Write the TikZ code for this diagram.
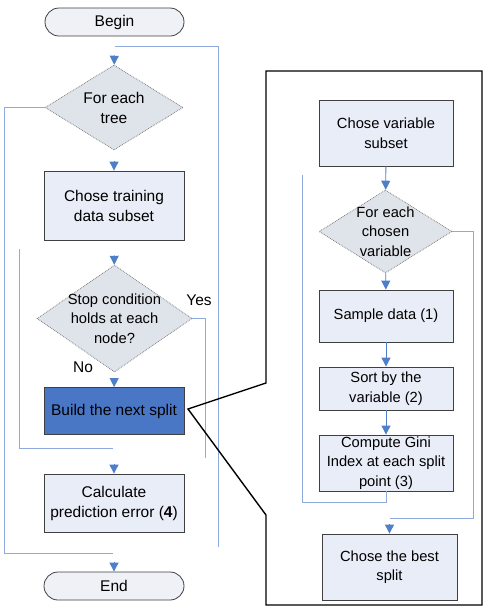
\documentclass[tikz,border=0pt]{standalone}
\usepackage{fontspec}
\setmainfont{Liberation Sans}
\usetikzlibrary{shapes.geometric,shapes.misc,arrows.meta}
\definecolor{boxfill}{HTML}{E9EDF7}
\definecolor{termfill}{HTML}{EFF1F7}
\definecolor{decfill}{HTML}{DFE3EA}
\definecolor{buildfill}{HTML}{4A77C5}
\definecolor{arrowblue}{HTML}{4F7FC8}
\definecolor{loopblue}{HTML}{8FAADC}
\definecolor{edge}{HTML}{404040}
\tikzset{
  every node/.style={font=\fontsize{15.5}{20}\selectfont, align=center},
  small/.style={font=\fontsize{14.7}{19.5}\selectfont},
  term/.style={rounded rectangle, draw=edge, fill=termfill, line width=0.8pt, inner sep=0pt},
  proc/.style={rectangle, draw=edge, fill=boxfill, line width=0.8pt, inner sep=0pt},
  dec/.style={diamond, draw=gray, densely dotted, fill=decfill, line width=0.8pt, inner sep=0pt},
  arr/.style={draw=arrowblue, line width=0.9pt, -{Triangle[length=9pt,width=9pt]}},
  loopline/.style={draw=loopblue, line width=0.9pt},
  callout/.style={draw=black, line width=1.4pt, line join=miter}
}
\begin{document}
\begin{tikzpicture}[x=1pt,y=-1pt]
\useasboundingbox (0,0) rectangle (489,611);
% left column
\node[term, minimum width=139pt, minimum height=28pt] (begin) at (114.5,22) {Begin};
\node[dec, minimum width=138pt, minimum height=85pt,
  label={[align=center]center:For each\\tree}] (d1) at (114,107.5) {};
\node[proc, minimum width=140pt, minimum height=69pt] (train) at (114,205.5) {Chose training\\data subset};
\node[dec, minimum width=155pt, minimum height=107pt,
  label={[align=center, small]center:Stop condition\\holds at each\\node?}] (d2) at (114.5,318.5) {};
\node[proc, fill=buildfill, minimum width=140pt, minimum height=47pt] (build) at (114,411) {Build the next split};
\node[proc, minimum width=140pt, minimum height=58pt] (calc) at (114,503) {Calculate\\prediction error (\textbf{4})};
\node[term, minimum width=140pt, minimum height=28pt] (end) at (114,586) {End};
\node (yes) at (199,300) {Yes};
\node (no) at (83,367) {No};

\draw[arr, shorten <=19pt] (begin) -- (d1);
\draw[arr, shorten <=11pt] (d1) -- (train);
\draw[arr, shorten <=15pt] (train) -- (d2);
\draw[arr, shorten <=6pt] (d2) -- (build);
\draw[arr, shorten <=29pt] (build) -- (calc);
\draw[arr, shorten <=30pt] (calc) -- (end);

\coordinate (rtop) at (115,46);
\coordinate (rbot) at (218,547);
\draw[loopline] (rtop) -- (218,46) -- (rbot);
\coordinate (lbot) at (113,553);
\draw[loopline] (d1.west) -- (4,107.5) |- (lbot);
\coordinate (ibot) at (113,448);
\coordinate (itop) at (19,249);
\draw[loopline] (ibot) -| (itop);
\coordinate (ybot) at (205,458);
\draw[loopline] (d2.east) -| (ybot);

% right panel
\coordinate (tip) at (188,409);
\draw[callout] (tip) -- (266,383) -- (266,71) -- (482,71) -- (482,605) -- (266,605) -- (266,515) -- cycle;
\node[proc, small, minimum width=134pt, minimum height=66pt] (var) at (386,133) {Chose variable\\subset};
\node[dec, minimum width=133pt, minimum height=83pt,
  label={[align=center, small]center:For each\\chosen\\variable}] (d3) at (385.5,231.5) {};
\node[proc, small, minimum width=134pt, minimum height=52pt] (sample) at (386,316) {Sample data (1)};
\node[proc, small, minimum width=134pt, minimum height=43pt] (sort) at (386,388.5) {Sort by the\\variable (2)};
\node[proc, small, minimum width=134pt, minimum height=56pt] (gini) at (386,463) {Compute Gini\\Index at each split\\point (3)};
\node[proc, small, minimum width=135pt, minimum height=66pt] (best) at (389.5,567) {Chose the best\\split};

\draw[arr] (var) -- (d3);
\draw[arr] (d3) -- (sample);
\draw[arr] (sample) -- (sort);
\draw[arr] (sort) -- (gini);
\coordinate (gtop) at (302,175);
\draw[loopline] (gini.south) -- (386,502) -| (gtop);
\coordinate (bjoin) at (389.5,518);
\draw[loopline] (d3.east) -| (473,518) -- (bjoin);
\draw[arr, shorten <=6pt] (bjoin) -- (best);
\end{tikzpicture}
\end{document}
